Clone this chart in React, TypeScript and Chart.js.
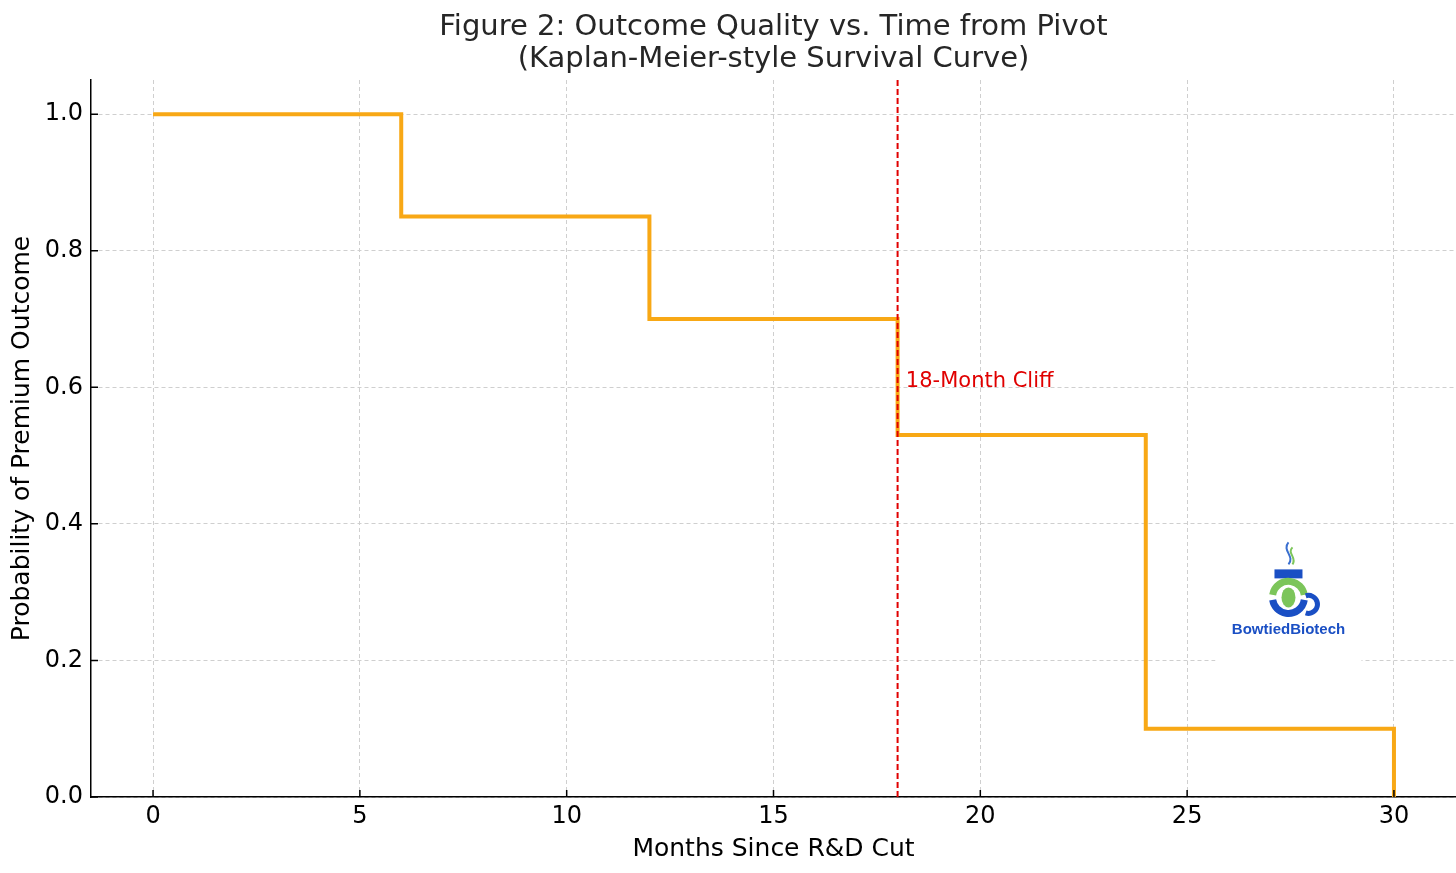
import React, { useEffect, useRef } from "react";
import { Chart, registerables, Plugin } from "chart.js";

Chart.register(...registerables);

// Survival curve
const months = [0, 6, 12, 18, 24, 30];
const probability = [1.0, 0.85, 0.7, 0.53, 0.1, 0.0];
const xTicks = [0, 5, 10, 15, 20, 25, 30];
const yTicks = [0, 0.2, 0.4, 0.6, 0.8, 1.0];
const cliffMonth = 18;
const cliffLabel = "18-Month Cliff";
const cliffLabelY = 0.6;

const FONT = "'DejaVu Sans', sans-serif";

// matplotlib-style inward ticks
const inwardTicks: Plugin<"line"> = {
  id: "inwardTicks",
  afterDatasetsDraw(chart) {
    const { ctx, chartArea } = chart;
    const x = chart.scales.x;
    const y = chart.scales.y;
    ctx.save();
    ctx.strokeStyle = "#000";
    ctx.lineWidth = 1.5;
    ctx.beginPath();
    xTicks.forEach((v) => {
      const px = x.getPixelForValue(v);
      ctx.moveTo(px, chartArea.bottom);
      ctx.lineTo(px, chartArea.bottom - 7);
    });
    yTicks.forEach((v) => {
      const py = y.getPixelForValue(v);
      ctx.moveTo(chartArea.left, py);
      ctx.lineTo(chartArea.left + 7, py);
    });
    ctx.stroke();
    ctx.restore();
  },
};

// red annotation next to the cliff line
const cliffText: Plugin<"line"> = {
  id: "cliffText",
  afterDatasetsDraw(chart) {
    const { ctx } = chart;
    const px = chart.scales.x.getPixelForValue(cliffMonth + 0.2);
    const py = chart.scales.y.getPixelForValue(cliffLabelY);
    ctx.save();
    ctx.fillStyle = "#e00000";
    ctx.font = `21px ${FONT}`;
    ctx.textAlign = "left";
    ctx.textBaseline = "alphabetic";
    ctx.fillText(cliffLabel, px, py);
    ctx.restore();
  },
};

// watermark logo, roughly drawn
const logo: Plugin<"line"> = {
  id: "logo",
  beforeDatasetsDraw(chart) {
    const { ctx } = chart;
    const cx = chart.scales.x.getPixelForValue(27.45);
    const cy = chart.scales.y.getPixelForValue(0.285);
    ctx.save();
    ctx.fillStyle = "#fff";
    ctx.fillRect(cx - 73, cy - 58, 146, 126);

    const blue = "#1a4fc4";
    const green = "#7cc55a";
    // steam
    ctx.strokeStyle = "#3a6fd0";
    ctx.lineWidth = 2;
    ctx.beginPath();
    ctx.moveTo(cx, cy - 60);
    ctx.bezierCurveTo(cx - 7, cy - 52, cx + 7, cy - 46, cx, cy - 38);
    ctx.stroke();
    ctx.strokeStyle = green;
    ctx.beginPath();
    ctx.moveTo(cx + 4, cy - 55);
    ctx.bezierCurveTo(cx - 2, cy - 49, cx + 9, cy - 45, cx + 4, cy - 38);
    ctx.stroke();
    // bow tie / lid
    ctx.fillStyle = blue;
    ctx.fillRect(cx - 14, cy - 33, 28, 9);
    // green arc
    ctx.strokeStyle = green;
    ctx.lineWidth = 7;
    ctx.beginPath();
    ctx.arc(cx, cy - 5, 16, Math.PI * 1.05, Math.PI * 1.95);
    ctx.stroke();
    // blue cup ring
    ctx.strokeStyle = blue;
    ctx.beginPath();
    ctx.arc(cx, cy - 5, 16, Math.PI * 0.05, Math.PI * 0.95);
    ctx.stroke();
    // handle
    ctx.lineWidth = 5;
    ctx.beginPath();
    ctx.arc(cx + 20, cy + 2, 9, -Math.PI * 0.6, Math.PI * 0.6);
    ctx.stroke();
    // bean
    ctx.fillStyle = green;
    ctx.beginPath();
    ctx.ellipse(cx, cy - 5, 7, 10, 0, 0, Math.PI * 2);
    ctx.fill();
    // name
    ctx.fillStyle = blue;
    ctx.font = `bold 15px 'Liberation Sans', sans-serif`;
    ctx.textAlign = "center";
    ctx.textBaseline = "middle";
    ctx.fillText("BowtiedBiotech", cx, cy + 27);
    ctx.restore();
  },
};

const App: React.FC = () => {
  const canvasRef = useRef<HTMLCanvasElement | null>(null);

  useEffect(() => {
    document.body.style.margin = "0";
    const ctx = canvasRef.current?.getContext("2d");
    if (!ctx) return;

    const curve = months.map((m, i) => ({ x: m, y: probability[i] }));
    const cliff = [
      { x: cliffMonth, y: 0 },
      { x: cliffMonth, y: 1.05 },
    ];

    const chart = new Chart(ctx, {
      type: "line",
      data: {
        datasets: [
          {
            label: "Survival",
            data: curve,
            stepped: "before",
            borderColor: "#f8a815",
            borderWidth: 4,
            pointRadius: 0,
            fill: false,
            order: 2,
          },
          {
            label: "Cliff",
            data: cliff,
            borderColor: "#e00000",
            borderWidth: 2,
            borderDash: [6, 3],
            pointRadius: 0,
            fill: false,
            order: 1,
          },
        ],
      },
      options: {
        responsive: false,
        animation: false,
        layout: { padding: 0 },
        plugins: {
          legend: { display: false },
          tooltip: { enabled: false },
          title: {
            display: true,
            fullSize: false,
            text: [
              "Figure 2: Outcome Quality vs. Time from Pivot",
              "(Kaplan-Meier-style Survival Curve)",
            ],
            color: "#262626",
            font: { family: FONT, size: 29, weight: "normal", lineHeight: 1.1 },
            padding: { top: 12, bottom: 4.2 },
          },
        },
        scales: {
          x: {
            type: "linear",
            min: -1.5,
            max: 31.5,
            afterBuildTicks: (axis) => {
              axis.ticks = xTicks.map((v) => ({ value: v }));
            },
            afterFit: (axis) => {
              axis.height = 76;
            },
            ticks: {
              color: "#000",
              font: { family: FONT, size: 24 },
              padding: 5,
              maxRotation: 0,
              callback: (v) => String(v),
            },
            grid: {
              color: "#cfcfcf",
              lineWidth: 1,
              drawTicks: false,
            },
            border: { display: true, color: "#000", width: 1.5, dash: [4, 3] },
            title: {
              display: true,
              text: "Months Since R&D Cut",
              color: "#000",
              font: { family: FONT, size: 25 },
              padding: { top: 4, bottom: 9 },
            },
          },
          y: {
            type: "linear",
            min: 0,
            max: 1.05,
            afterBuildTicks: (axis) => {
              axis.ticks = yTicks.map((v) => ({ value: v }));
            },
            afterFit: (axis) => {
              axis.width = 91;
            },
            ticks: {
              color: "#000",
              font: { family: FONT, size: 24 },
              padding: 8,
              callback: (v) => Number(v).toFixed(1),
            },
            grid: {
              color: "#cfcfcf",
              lineWidth: 1,
              drawTicks: false,
            },
            border: { display: true, color: "#000", width: 1.5, dash: [4, 3] },
            title: {
              display: true,
              text: "Probability of Premium Outcome",
              color: "#000",
              font: { family: FONT, size: 25 },
              padding: { top: 7, bottom: 0 },
            },
          },
        },
      },
      plugins: [logo, inwardTicks, cliffText],
    });

    return () => {
      chart.destroy();
    };
  }, []);

  return (
    <div style={{ width: 1456, height: 873, background: "#fff" }}>
      <canvas ref={canvasRef} width={1456} height={873} />
    </div>
  );
};

export default App;
